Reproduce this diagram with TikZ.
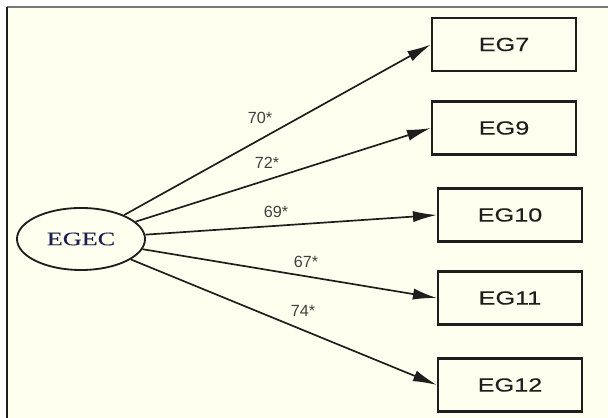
\documentclass[tikz,border=0pt]{standalone}
\usepackage{fontspec}
\setmainfont{Liberation Sans}
\newfontfamily\boxface[FakeStretch=1.33,FakeBold=0.2]{Liberation Sans}
\newfontfamily\serifface[FakeStretch=1.38,FakeBold=0.2]{Liberation Serif}
\usetikzlibrary{arrows.meta,shapes.geometric}
\definecolor{PathBg}{RGB}{255,255,240}
\definecolor{PathInk}{RGB}{30,30,30}
\definecolor{PathNavy}{RGB}{28,32,78}
\definecolor{PathFrame}{RGB}{120,120,120}

\begin{document}
\begin{tikzpicture}[x=0.025cm,y=-0.025cm,>={Latex[length=17pt,width=8pt]}]
      \useasboundingbox (0,0) rectangle (608,418);
      \fill[white] (0,0) rectangle (608,418);
      \fill[PathBg] (7,7) rectangle (608,418);
      \draw[PathFrame,line width=1.2pt] (7,7) -- (608,7);
      \draw[PathInk,line width=1.4pt] (7,7) -- (7,418);
      % latent factor and its indicators
      \node[draw=PathInk,line width=1.3pt,ellipse,minimum width=3.2cm,minimum height=1.55cm,inner sep=0pt,font=\serifface\fontsize{13.5}{15}\selectfont,text=PathNavy] (egec) at (81,239) {EGEC};
      \node[draw=PathInk,line width=1.6pt,minimum width=3.6cm,minimum height=1.33cm,font=\boxface\fontsize{13.5}{15}\selectfont,text=PathInk] (eg7) at (504,44.5) {EG7};
      \node[draw=PathInk,line width=1.6pt,minimum width=3.6cm,minimum height=1.33cm,font=\boxface\fontsize{13.5}{15}\selectfont,text=PathInk] (eg9) at (504,128) {EG9};
      \node[draw=PathInk,line width=1.6pt,minimum width=3.6cm,minimum height=1.33cm,font=\boxface\fontsize{13.5}{15}\selectfont,text=PathInk] (eg10) at (510,215) {EG10};
      \node[draw=PathInk,line width=1.6pt,minimum width=3.6cm,minimum height=1.33cm,font=\boxface\fontsize{13.5}{15}\selectfont,text=PathInk] (eg11) at (510,298) {EG11};
      \node[draw=PathInk,line width=1.6pt,minimum width=3.6cm,minimum height=1.33cm,font=\boxface\fontsize{13.5}{15}\selectfont,text=PathInk] (eg12) at (510,385) {EG12};
      \draw[->,line width=1.2pt,PathInk] (egec) -- (eg7.west);
      \draw[->,line width=1.2pt,PathInk] (egec) -- (eg9.west);
      \draw[->,line width=1.2pt,PathInk] (egec) -- (eg10.west);
      \draw[->,line width=1.2pt,PathInk] (egec) -- (eg11.west);
      \draw[->,line width=1.2pt,PathInk] (egec) -- (eg12.west);
      % loadings
      \node[font=\fontsize{11.5}{13}\selectfont,text=PathInk!85] (l7) at (260,118) {70*};
      \node[font=\fontsize{11.5}{13}\selectfont,text=PathInk!85] (l9) at (267,163) {72*};
      \node[font=\fontsize{11.5}{13}\selectfont,text=PathInk!85] (l10) at (276,212) {69*};
      \node[font=\fontsize{11.5}{13}\selectfont,text=PathInk!85] (l11) at (306,262) {67*};
      \node[font=\fontsize{11.5}{13}\selectfont,text=PathInk!85] (l12) at (303,311) {74*};
    \end{tikzpicture}
\end{document}
